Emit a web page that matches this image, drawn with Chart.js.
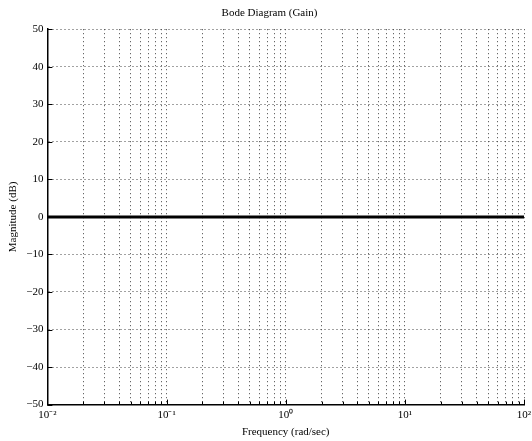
<!DOCTYPE html>
<html>
<head>
<meta charset="utf-8">
<script src="https://cdn.jsdelivr.net/npm/chart.js@4"></script>
<style>
  html, body { margin: 0; padding: 0; background: #fff; }
</style>
</head>
<body>
<canvas id="bode" width="532" height="441"></canvas>
<script>
// frequency (rad/sec) and gain (dB)
const freq = [0.01, 100];
const gainDb = [0, 0];
const yTicks = [-50, -40, -30, -20, -10, 0, 10, 20, 30, 40, 50];
const decades = [-2, -1, 0, 1, 2];
const supers = { '-': '⁻', '0': '⁰', '1': '¹', '2': '²' };

const serif = "'Liberation Serif', 'Times New Roman', serif";

// all the log grid positions 1..9 x 10^n
const xGrid = [];
decades.forEach(d => {
    for (let m = 1; m <= 9; m++) {
        if (d === 2 && m > 1) break;
        xGrid.push(m * Math.pow(10, d));
    }
});

function decadeLabel(v) {
    const e = Math.round(Math.log10(v));
    if (Math.abs(Math.log10(v) - e) > 1e-9) return '';
    return '10' + String(e).split('').map(c => supers[c]).join('');
}

// inward tick marks like matlab
const inwardTicks = {
    id: 'inwardTicks',
    afterDraw(chart) {
        const ctx = chart.ctx, a = chart.chartArea;
        const xs = chart.scales.x, ys = chart.scales.y;
        ctx.save();
        ctx.strokeStyle = '#000';
        ctx.lineWidth = 1;
        ctx.beginPath();
        xGrid.forEach(v => {
            const px = Math.round(xs.getPixelForValue(v)) + 0.5;
            const major = decadeLabel(v) !== '';
            ctx.moveTo(px, a.bottom);
            ctx.lineTo(px, a.bottom - (major ? 5 : 3));
        });
        yTicks.forEach(v => {
            const py = Math.round(ys.getPixelForValue(v)) + 0.5;
            ctx.moveTo(a.left, py);
            ctx.lineTo(a.left + 5, py);
        });
        ctx.stroke();
        ctx.restore();
    }
};

new Chart(document.getElementById('bode'), {
    type: 'line',
    data: {
        datasets: [{
            data: freq.map((f, i) => ({ x: f, y: gainDb[i] })),
            borderColor: '#000',
            borderWidth: 3,
            pointRadius: 0,
            tension: 0,
        }]
    },
    options: {
        responsive: false,
        animation: false,
        layout: {
            padding: { left: 7, right: 0, top: 2, bottom: 2 },
        },
        plugins: {
            legend: { display: false },
            tooltip: { enabled: false },
            title: {
                display: true,
                text: 'Bode Diagram (Gain)',
                color: '#000',
                font: { family: serif, size: 11, weight: 'normal' },
                padding: { top: 5, bottom: 9 },
            }
        },
        scales: {
            x: {
                type: 'logarithmic',
                min: 0.01,
                max: 100,
                afterBuildTicks: s => { s.ticks = xGrid.map(v => ({ value: v })); },
                afterFit: s => { s.paddingRight = 8; },
                ticks: {
                    autoSkip: false,
                    maxRotation: 0,
                    color: '#000',
                    font: { family: serif, size: 11 },
                    padding: 4,
                    callback: v => decadeLabel(v),
                },
                grid: {
                    color: '#444',
                    lineWidth: 1,
                    drawTicks: false,
                },
                border: { display: true, color: '#000', width: 1.5, dash: [1, 3] },
                title: {
                    display: true,
                    text: 'Frequency (rad/sec)',
                    color: '#000',
                    font: { family: serif, size: 11 },
                    padding: { top: 0, bottom: 0 },
                },
            },
            y: {
                min: -50,
                max: 50,
                afterBuildTicks: s => { s.ticks = yTicks.map(v => ({ value: v })); },
                ticks: {
                    color: '#000',
                    font: { family: serif, size: 11 },
                    padding: 4,
                    callback: v => v < 0 ? '\u2212' + Math.abs(v) : String(v),
                },
                grid: {
                    color: '#444',
                    lineWidth: 1,
                    drawTicks: false,
                },
                border: { display: true, color: '#000', width: 1.5, dash: [1, 3] },
                title: {
                    display: true,
                    text: 'Magnitude (dB)',
                    color: '#000',
                    font: { family: serif, size: 11 },
                    padding: { top: 0, bottom: 2 },
                },
            }
        }
    },
    plugins: [inwardTicks]
});
</script>
</body>
</html>
